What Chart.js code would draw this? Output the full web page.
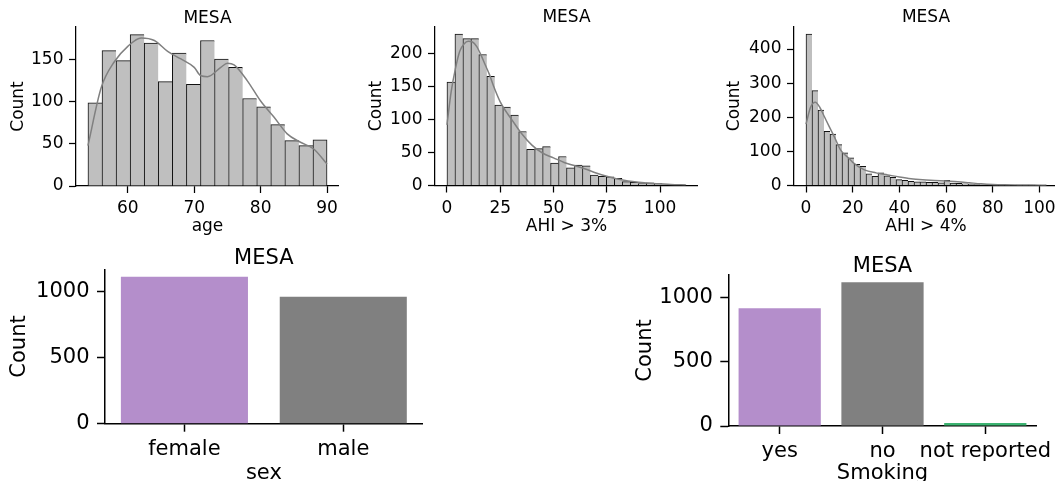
<!DOCTYPE html>
<html>
<head>
<meta charset="utf-8">
<script src="https://cdn.jsdelivr.net/npm/chart.js@4.4.1/dist/chart.umd.min.js"></script>
<style>
  html, body { margin: 0; padding: 0; background: #fff; }
  body { width: 1055px; height: 481px; overflow: hidden; position: relative; }
  canvas { position: absolute; }
</style>
</head>
<body>
<canvas id="ageChart"></canvas>
<canvas id="ahi3Chart"></canvas>
<canvas id="ahi4Chart"></canvas>
<canvas id="sexChart"></canvas>
<canvas id="smokingChart"></canvas>
<script>
// ---- data ----
const ageRange = [54, 90];
const ageCounts = [99, 161, 149, 180, 170, 124, 158, 121, 173, 151, 141, 104, 94, 73, 54, 48, 55];
const ageKdeX = [54, 56, 58, 60, 62, 64, 66, 68, 70, 71, 72, 74, 75, 76, 78, 80, 82, 84, 86, 88, 90];
const ageKdeY = [48, 117, 148, 166, 176, 173, 160, 151, 141, 131, 130, 141, 146, 144, 125, 101, 82, 62, 52, 44, 26];
const ageXTicks = [60, 70, 80, 90];
const ageYTicks = [0, 50, 100, 150];

const ahi3Range = [0, 112.2];
const ahi3Counts = [157, 230, 223, 223, 199, 166, 122, 119, 107, 82, 55, 56, 59, 34, 44,
                    27, 31, 30, 16, 14, 13, 11, 6, 5, 3, 4, 3, 1, 0, 1];
const ahi3KdeX = [0, 2, 4, 6, 8, 10, 12, 14, 16, 18, 20, 22, 25, 28, 30, 35, 40, 45, 50, 55, 60, 65, 70, 75, 80, 85, 90, 95, 100, 105, 112];
const ahi3KdeY = [92, 143, 178, 204, 215, 219, 218, 211, 198, 183, 168, 150, 127, 111, 102, 79, 61, 49, 42, 35, 30, 25, 19, 14, 10, 7, 5, 3.5, 2.5, 1.5, 0.8];
const ahi3XTicks = [0, 25, 50, 75, 100];
const ahi3YTicks = [0, 50, 100, 150, 200];

const ahi4Range = [0, 102.8];
const ahi4Counts = [444, 278, 221, 159, 151, 120, 96, 81, 62, 56, 34, 27, 37, 28, 24, 17, 15, 12, 11, 11,
                    9, 9, 8, 15, 7, 6, 5, 4, 3, 2, 2, 1, 1, 1, 0, 1, 1, 1, 1, 1];
const ahi4KdeX = [0, 2, 4, 6, 8, 10, 12, 15, 18, 20, 25, 30, 35, 40, 45, 50, 55, 60, 65, 70, 75, 80, 85, 90, 95, 100, 103];
const ahi4KdeY = [180, 230, 244, 228, 200, 172, 145, 102, 82, 68, 46, 37, 31, 25, 20, 17, 15, 13, 11, 8, 5, 3, 2, 1.5, 1.2, 1, 0.5];
const ahi4XTicks = [0, 20, 40, 60, 80, 100];
const ahi4YTicks = [0, 100, 200, 300, 400];

const sexCategories = ['female', 'male'];
const sexCounts = [1109, 957];
const smokingCategories = ['yes', 'no', 'not reported'];
const smokingCounts = [914, 1117, 23];
const countYTicks = [0, 500, 1000];

const barColors = ['#b48ecb', '#808080', '#3cb371'];

Chart.defaults.font.family = "'DejaVu Sans', sans-serif";
Chart.defaults.color = '#000';
Chart.defaults.animation = false;

function placeCanvas(id, box) {
  const c = document.getElementById(id);
  c.width = box.w;
  c.height = box.h;
  c.style.left = box.x + 'px';
  c.style.top = box.y + 'px';
  c.style.width = box.w + 'px';
  c.style.height = box.h + 'px';
  return c;
}

function fixedTicks(values) {
  return scale => { scale.ticks = values.map(v => ({ value: v })); };
}

// plain numbers, no thousands separator
const plainLabel = v => String(v);

function axisLook(st) {
  return {
    border: { display: true, color: '#000', width: st.spine },
    grid: {
      display: true, drawOnChartArea: false, drawTicks: true, offset: false,
      tickLength: st.tick, tickColor: '#000', tickWidth: st.spine
    }
  };
}

function yAxis(box, st, max, ticks) {
  return {
    min: 0,
    max: max,
    afterBuildTicks: fixedTicks(ticks),
    afterFit: s => { s.width = box.yw; s.paddingTop = 0; s.paddingBottom = 0; },
    ticks: { font: { size: st.font, lineHeight: 1 }, padding: st.ypad, color: '#000', callback: plainLabel },
    title: {
      display: true, text: 'Count', color: '#000',
      font: { size: st.font, lineHeight: 1 }, padding: { top: box.ytitle, bottom: 0 }
    },
    ...axisLook(st)
  };
}

function commonPlugins(box, st) {
  return {
    legend: { display: false },
    tooltip: { enabled: false },
    title: {
      display: true, text: 'MESA', color: '#000', fullSize: false,
      font: { size: st.font, weight: 'normal', lineHeight: 1 },
      padding: { top: box.tTop, bottom: box.tBottom }
    }
  };
}

// top row style and bottom row style
const smallStyle = { font: 17, tick: 7, spine: 1.25, ypad: 5.5, xpad: 7.5 };
const bigStyle = { font: 21, tick: 8, spine: 1.5, ypad: 7.5, xpad: 7.5 };

function histChart(id, box, range, counts, kdeX, kdeY, xTicks, yTicks, xLabel) {
  const st = smallStyle;
  const n = counts.length;
  const w = (range[1] - range[0]) / n;
  const span = range[1] - range[0];
  const bars = counts.map((c, i) => ({ x: range[0] + (i + 0.5) * w, y: c }));
  const kde = kdeX.map((x, i) => ({ x: x, y: kdeY[i] }));
  return new Chart(placeCanvas(id, box), {
    type: 'bar',
    data: {
      datasets: [
        {
          type: 'line', data: kde, order: 0,
          borderColor: '#808080', borderWidth: 1.5, pointRadius: 0,
          cubicInterpolationMode: 'monotone', fill: false
        },
        {
          type: 'bar', data: bars, order: 1,
          backgroundColor: '#bfbfbf', borderColor: '#111',
          borderWidth: ctx => ({ top: 1, left: 1, right: ctx.dataIndex === n - 1 ? 1 : 0, bottom: 0 }),
          borderSkipped: false, barPercentage: 1, categoryPercentage: 1
        }
      ]
    },
    options: {
      responsive: false,
      layout: { padding: { left: 0, right: box.padRight || 0, top: 0, bottom: 0 } },
      plugins: commonPlugins(box, st),
      scales: {
        x: {
          type: 'linear',
          min: range[0] - 0.05 * span,
          max: range[1] + 0.05 * span,
          offset: false,
          afterBuildTicks: fixedTicks(xTicks),
          afterFit: s => { s.height = box.xh; s.paddingLeft = 0; s.paddingRight = 0; },
          ticks: { font: { size: st.font, lineHeight: 1 }, padding: st.xpad, maxRotation: 0, autoSkip: false, color: '#000', callback: plainLabel },
          title: {
            display: true, text: xLabel, color: '#000',
            font: { size: st.font, lineHeight: 1 }, padding: { top: 0, bottom: box.xtitle }
          },
          ...axisLook(st)
        },
        y: yAxis(box, st, Math.max(...counts) * 1.05, yTicks)
      }
    }
  });
}

function countChart(id, box, cats, counts, xLabel) {
  const st = bigStyle;
  return new Chart(placeCanvas(id, box), {
    type: 'bar',
    data: {
      labels: cats,
      datasets: [{
        data: counts,
        backgroundColor: barColors.slice(0, cats.length),
        borderWidth: 0,
        categoryPercentage: 0.8,
        barPercentage: 1
      }]
    },
    options: {
      responsive: false,
      layout: { padding: { left: 0, right: box.padRight || 0, top: 0, bottom: 0 } },
      plugins: commonPlugins(box, st),
      scales: {
        x: {
          type: 'category',
          offset: true,
          afterFit: s => { s.height = box.xh; s.paddingLeft = 0; s.paddingRight = 0; },
          ticks: { font: { size: st.font, lineHeight: 1 }, padding: st.xpad, maxRotation: 0, autoSkip: false, color: '#000' },
          title: {
            display: true, text: xLabel, color: '#000',
            font: { size: st.font, lineHeight: 1 }, padding: { top: 0, bottom: box.xtitle }
          },
          ...axisLook(st)
        },
        y: yAxis(box, st, Math.max(...counts) * 1.05, countYTicks)
      }
    }
  });
}

histChart('ageChart',
  { x: 0, y: 0, w: 339, h: 240, yw: 76, xh: 54, tTop: 10, tBottom: 0, ytitle: 10.5, xtitle: 4.5 },
  ageRange, ageCounts, ageKdeX, ageKdeY, ageXTicks, ageYTicks, 'age');

histChart('ahi3Chart',
  { x: 350, y: 0, w: 348, h: 240, yw: 85, xh: 54.5, tTop: 9.5, tBottom: 0, ytitle: 18.2, xtitle: 4.5 },
  ahi3Range, ahi3Counts, ahi3KdeX, ahi3KdeY, ahi3XTicks, ahi3YTicks, 'AHI > 3%');

histChart('ahi4Chart',
  { x: 705, y: 0, w: 353, h: 240, yw: 89, xh: 54.5, tTop: 9.5, tBottom: 0, ytitle: 21.5, xtitle: 4.5 },
  ahi4Range, ahi4Counts, ahi4KdeX, ahi4KdeY, ahi4XTicks, ahi4YTicks, 'AHI > 4%');

countChart('sexChart',
  { x: 0, y: 240, w: 450, h: 260, yw: 105, xh: 76.3, padRight: 27.3, tTop: 8.3, tBottom: 0, ytitle: 9, xtitle: 16 },
  sexCategories, sexCounts, 'sex');

countChart('smokingChart',
  { x: 625, y: 240, w: 430, h: 260, yw: 103.3, xh: 74, padRight: 18.3, tTop: 16.2, tBottom: -2.2, ytitle: 10.5, xtitle: 16 },
  smokingCategories, smokingCounts, 'Smoking');
</script>
</body>
</html>
